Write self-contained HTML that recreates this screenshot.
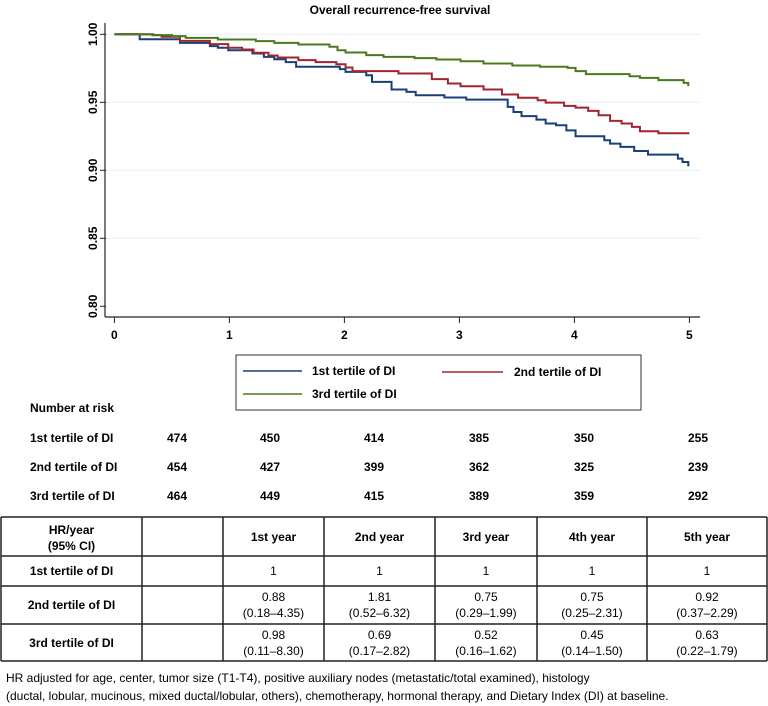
<!DOCTYPE html>
<html><head><meta charset="utf-8"><style>
body{margin:0;background:#fff;}
svg{display:block;font-family:"Liberation Sans",Arial,sans-serif;}
.b{font-weight:bold;font-size:12px;}
.n{font-size:12px;}
</style></head><body>
<svg id="c" width="768" height="706" viewBox="0 0 768 706">
<text x="400" y="14" text-anchor="middle" class="b" font-size="13">Overall recurrence-free survival</text>
<g id="grid"></g>
<g id="axes"></g>
<g id="lines"></g>
<g>
<rect x="236" y="355" width="405" height="55" fill="none" stroke="#333" stroke-width="1"/>
<line x1="243" y1="371" x2="302" y2="371" stroke="#1a3f7a" stroke-width="1.5"/>
<text x="312" y="375" class="b">1st tertile of DI</text>
<line x1="442" y1="372" x2="503" y2="372" stroke="#a0262e" stroke-width="1.5"/>
<text x="514" y="376" class="b">2nd tertile of DI</text>
<line x1="243" y1="394" x2="302" y2="394" stroke="#4a7a1e" stroke-width="1.5"/>
<text x="312" y="398" class="b">3rd tertile of DI</text>
</g>
<g id="risk">
<text x="30" y="412" class="b">Number at risk</text>
</g>
<g id="tbl"></g>
<text x="6" y="682" class="n">HR adjusted for age, center, tumor size (T1-T4), positive auxiliary nodes (metastatic/total examined), histology</text>
<text x="6" y="700" class="n">(ductal, lobular, mucinous, mixed ductal/lobular, others), chemotherapy, hormonal therapy, and Dietary Index (DI) at baseline.</text>
</svg>
<script>
const xTicks=[0,1,2,3,4,5];
const yTicks=[0.80,0.85,0.90,0.95,1.00];
const blueT=[0,0.22,0.57,0.83,0.90,0.99,1.20,1.30,1.39,1.49,1.58,1.96,2.01,2.19,2.24,2.41,2.54,2.62,2.87,3.06,3.42,3.47,3.54,3.67,3.75,3.84,3.93,4.01,4.26,4.31,4.40,4.52,4.64,4.90,4.94,4.99,5];
const blueS=[1,0.9964,0.9937,0.9913,0.9901,0.9883,0.9859,0.9834,0.9817,0.9795,0.9761,0.9744,0.9724,0.9699,0.9650,0.9594,0.9577,0.9552,0.9535,0.9520,0.9466,0.9429,0.9398,0.9373,0.9344,0.9331,0.9294,0.9250,0.9221,0.9196,0.9172,0.9142,0.9115,0.9086,0.9061,0.9037,0.9037];
const redT=[0,0.33,0.41,0.57,0.83,0.99,1.11,1.21,1.34,1.42,1.60,1.75,1.93,2.01,2.07,2.47,2.76,2.90,3.01,3.21,3.37,3.51,3.68,3.75,3.91,4.01,4.12,4.21,4.31,4.41,4.50,4.57,4.73,5];
const redS=[1,0.9994,0.9982,0.9952,0.9928,0.9901,0.9888,0.9864,0.9844,0.9829,0.9810,0.9795,0.9780,0.9756,0.9729,0.9712,0.9670,0.9638,0.9618,0.9594,0.9557,0.9533,0.9515,0.9498,0.9474,0.9461,0.9437,0.9405,0.9363,0.9344,0.9319,0.9287,0.9272,0.9272];
const greenT=[0,0.14,0.34,0.50,0.62,0.90,1.23,1.39,1.60,1.87,1.94,2.01,2.19,2.34,2.61,2.80,3.01,3.21,3.46,3.70,3.94,4.01,4.10,4.48,4.57,4.73,4.95,4.99,5];
const greenS=[1,0.9999,0.9994,0.9987,0.9974,0.9962,0.9950,0.9937,0.9925,0.9908,0.9883,0.9866,0.9847,0.9834,0.9825,0.9815,0.9802,0.9785,0.9771,0.9761,0.9753,0.9729,0.9707,0.9692,0.9680,0.9663,0.9643,0.9626,0.9626];
const riskRows=["1st tertile of DI","2nd tertile of DI","3rd tertile of DI"];
const risk1=[474,450,414,385,350,255];
const risk2=[454,427,399,362,325,239];
const risk3=[464,449,415,389,359,292];
const hrCols=["1st year","2nd year","3rd year","4th year","5th year"];
const hr2=[["0.88","(0.18–4.35)"],["1.81","(0.52–6.32)"],["0.75","(0.29–1.99)"],["0.75","(0.25–2.31)"],["0.92","(0.37–2.29)"]];
const hr3=[["0.98","(0.11–8.30)"],["0.69","(0.17–2.82)"],["0.52","(0.16–1.62)"],["0.45","(0.14–1.50)"],["0.63","(0.22–1.79)"]];

const NS="http://www.w3.org/2000/svg";
const X=t=>114.4+115*t;
const Y=s=>34.3+(1-s)*1360;
function mk(tag,attrs,parent,txt){const e=document.createElementNS(NS,tag);for(const k in attrs)e.setAttribute(k,attrs[k]);if(txt!==undefined)e.textContent=txt;parent.appendChild(e);return e;}
const grid=document.getElementById('grid'),axes=document.getElementById('axes'),lines=document.getElementById('lines');
yTicks.forEach(v=>{
  if(v>0.8){const g=mk('line',{x1:106,x2:700,y1:Y(v),y2:Y(v),stroke:'#e3f1f4','stroke-width':1},grid);
  
  }
  const tk=mk('line',{x1:100,x2:106,y1:Y(v),y2:Y(v),stroke:'#222','stroke-width':1},axes);
  
  
  const tx=mk('text',{x:0,y:0,transform:`translate(97,${Y(v)}) rotate(-90)`,'text-anchor':'middle',class:'b'},axes,v.toFixed(2));
  
  
});
mk('line',{x1:105,x2:105,y1:23,y2:317,stroke:'#222','stroke-width':1.2},axes);
mk('line',{x1:105,x2:700,y1:317,y2:317,stroke:'#222','stroke-width':1.2},axes);
xTicks.forEach(v=>{
  const tk=mk('line',{x1:X(v),x2:X(v),y1:317,y2:323,stroke:'#222','stroke-width':1},axes);
  
  
  const tx=mk('text',{x:X(v),y:339,'text-anchor':'middle',class:'b'},axes,String(v));
  
  
});
function step(T,S){let d=`M${X(T[0])},${Y(S[0])}`;for(let i=1;i<T.length;i++){d+=`H${X(T[i])}V${Y(S[i])}`;}return d;}
[[blueT,blueS,'#1a3f7a','curve-1st-tertile'],[redT,redS,'#a0262e','curve-2nd-tertile'],[greenT,greenS,'#4a7a1e','curve-3rd-tertile']].forEach(([T,S,c,n])=>{
  const p=mk('path',{d:step(T,S),fill:'none',stroke:c,'stroke-width':2},lines);
  
  
});
const risk=document.getElementById('risk');
const riskX=[177,270,374,479,584,698];
const riskY=[442,471,500];
[risk1,risk2,risk3].forEach((arr,r)=>{
  const l=mk('text',{x:30,y:riskY[r],class:'b'},risk,riskRows[r]);
  
  
  arr.forEach((v,i)=>{const t=mk('text',{x:riskX[i],y:riskY[r],'text-anchor':'middle',class:'b'},risk,String(v));
  
  });
});
const tbl=document.getElementById('tbl');
const cx=[1,142,223,324,435,537,647,767];
const ry=[517,556,586,624,661];
ry.forEach(y=>mk('line',{x1:1,x2:767,y1:y,y2:y,stroke:'#222','stroke-width':1.5},tbl));
cx.forEach(x=>mk('line',{x1:x,x2:x,y1:517,y2:661,stroke:'#222','stroke-width':1.5},tbl));
const mid=i=>(cx[i]+cx[i+1])/2;
mk('text',{x:mid(0),y:534,'text-anchor':'middle',class:'b'},tbl,'HR/year');
mk('text',{x:mid(0),y:550,'text-anchor':'middle',class:'b'},tbl,'(95% CI)');
hrCols.forEach((h,i)=>{const t=mk('text',{x:mid(i+2),y:541,'text-anchor':'middle',class:'b'},tbl,h);

});
riskRows.forEach((r,j)=>{const t=mk('text',{x:mid(0),y:[575,609,647][j],'text-anchor':'middle',class:'b'},tbl,r);

});
hrCols.forEach((h,i)=>{
  mk('text',{x:mid(i+2),y:575,'text-anchor':'middle',class:'n'},tbl,'1');
  mk('text',{x:mid(i+2),y:601,'text-anchor':'middle',class:'n'},tbl,hr2[i][0]);
  mk('text',{x:mid(i+2),y:617,'text-anchor':'middle',class:'n'},tbl,hr2[i][1]);
  mk('text',{x:mid(i+2),y:639,'text-anchor':'middle',class:'n'},tbl,hr3[i][0]);
  mk('text',{x:mid(i+2),y:655,'text-anchor':'middle',class:'n'},tbl,hr3[i][1]);
});
</script>
</body></html>
